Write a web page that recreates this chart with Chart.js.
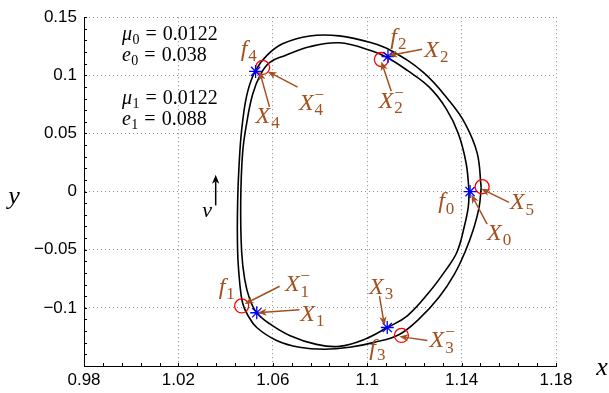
<!DOCTYPE html>
<html lang="en">
<head>
  <meta charset="UTF-8">
  <title>Periodic orbits, e0 / e1</title>
  <script src="https://cdn.jsdelivr.net/npm/chart.js"></script>
  <style>
    html, body { margin: 0; padding: 0; background: #fff; }
    #wrap { width: 609px; height: 393px; }
  </style>
</head>
<body>
  <div id="wrap"><canvas id="orbitChart" width="609" height="393"></canvas></div>

  <script>
    // Orbit A (outer along the top and right side)
    const orbitAX = [1.1483, 1.1466, 1.1415, 1.1348, 1.1238, 1.1102, 1.1018, 1.0882, 1.0756, 1.0641, 1.0574, 1.0527,
                     1.0493, 1.0472, 1.0460, 1.0451, 1.0451, 1.0460, 1.0472, 1.0493, 1.0532, 1.0616, 1.0713, 1.0819,
                     1.0925, 1.1030, 1.1136, 1.1221, 1.1305, 1.1369, 1.1415, 1.1449, 1.1474, 1.1483];
    const orbitAY = [0.0034, 0.0331, 0.0585, 0.0780, 0.1025, 0.1212, 0.1280, 0.1339, 0.1339, 0.1271, 0.1169, 0.1042,
                     0.0856, 0.0602, 0.0331, -0.0093, -0.0517, -0.0788, -0.0958, -0.1059, -0.1169, -0.1280, -0.1339, -0.1356,
                     -0.1339, -0.1297, -0.1229, -0.1093, -0.0907, -0.0712, -0.0517, -0.0331, -0.0136, 0.0034];

    // Orbit B (inner along the top and right side)
    const orbitBX = [1.1432, 1.1419, 1.1386, 1.1335, 1.1263, 1.1170, 1.1085, 1.1018, 1.0882, 1.0756, 1.0650, 1.0586,
                     1.0548, 1.0515, 1.0489, 1.0472, 1.0464, 1.0468, 1.0481, 1.0502, 1.0532, 1.0586, 1.0671, 1.0785,
                     1.0882, 1.0988, 1.1085, 1.1170, 1.1263, 1.1335, 1.1381, 1.1411, 1.1428, 1.1432];
    const orbitBY = [0.0000, 0.0246, 0.0500, 0.0712, 0.0898, 0.1042, 0.1153, 0.1212, 0.1280, 0.1246, 0.1169, 0.1110,
                     0.1008, 0.0839, 0.0585, 0.0331, -0.0093, -0.0517, -0.0754, -0.0924, -0.1042, -0.1136, -0.1237, -0.1314,
                     -0.1331, -0.1271, -0.1169, -0.1068, -0.0864, -0.0669, -0.0517, -0.0305, -0.0136, 0.0000];

    // blue asterisks: X0 (f0), X1, X2 (f2), X3 (f3), X4 (f4)
    const starX = [1.1436, 1.0532, 1.1088, 1.1085, 1.0527];
    const starY = [0.0000, -0.1042, 0.1161, -0.1169, 0.1034];

    // red circles: X1-, X2-, X3-, X4-, X5
    const ringX = [1.0468, 1.1060, 1.1145, 1.0557, 1.1487];
    const ringY = [-0.0983, 0.1136, -0.1237, 0.1068, 0.0042];

    // axis ticks
    const xTicks = [0.98, 1.02, 1.06, 1.1, 1.14, 1.18];
    const xTickLabels = ['0.98', '1.02', '1.06', '1.1', '1.14', '1.18'];
    const yTicks = [-0.15, -0.1, -0.05, 0, 0.05, 0.1, 0.15];
    const yTickLabels = ['', '\u22120.1', '\u22120.05', '0', '0.05', '0.1', '0.15'];

    // brown annotation arrows, tail -> head
    const arrowTailX = [1.1233, 1.1102, 1.0705, 1.0586, 1.1601, 1.1508, 1.0629, 1.0713, 1.1052, 1.1255];
    const arrowTailY = [0.1225, 0.0864, 0.0898, 0.0729, -0.0093, -0.0280, -0.0814, -0.1017, -0.0898, -0.1280];
    const arrowHeadX = [1.1090, 1.1060, 1.0578, 1.0544, 1.1483, 1.1441, 1.0481, 1.0536, 1.1073, 1.1136];
    const arrowHeadY = [0.1169, 0.1119, 0.1034, 0.1034, 0.0025, -0.0025, -0.0966, -0.1042, -0.1153, -0.1246];

    // brown labels: base letter, subscript, superscript
    const labelBase = ['f', 'f', 'f', 'f', 'f', 'X', 'X', 'X', 'X', 'X', 'X', 'X', 'X', 'X', 'X'];
    const labelSub  = ['0', '1', '2', '3', '4', '0', '1', '1', '2', '2', '3', '3', '4', '4', '5'];
    const labelSup  = ['', '', '', '', '', '', '', '\u2212', '', '\u2212', '', '\u2212', '', '\u2212', ''];
    const labelX = [1.1335, 1.0405, 1.1132, 1.1043, 1.0498, 1.1559, 1.0768, 1.0705, 1.1293, 1.1102, 1.1059, 1.1318, 1.0578, 1.0764, 1.1656];
    const labelY = [-0.0076, -0.0814, 0.1339, -0.1339, 0.1237, -0.0347, -0.1045, -0.0790, 0.1229, 0.0788, -0.0814, -0.1271, 0.0661, 0.0771, -0.0085];

    // parameter block
    const paramSym = ['\u03bc', 'e', '\u03bc', 'e'];
    const paramSub = ['0', '0', '1', '1'];
    const paramVal = ['0.0122', '0.038', '0.0122', '0.088'];
    const paramX = 0.9961;
    const paramY = [0.1305, 0.1127, 0.0754, 0.0576];

    // velocity direction marker
    const vArrowX = 1.0358, vArrowY0 = -0.0119, vArrowY1 = 0.0144;

    const BROWN = '#a3501f';
    const SERIF = '"Liberation Serif", "DejaVu Serif", serif';

    const toPoints = (xs, ys) => xs.map((x, i) => ({ x: x, y: ys[i] }));

    function drawArrow(ctx, x1, y1, x2, y2, color) {
      const ang = Math.atan2(y2 - y1, x2 - x1);
      const len = 9, half = 3.6, notch = 6.5;
      const c = Math.cos(ang), s = Math.sin(ang);
      ctx.save();
      ctx.strokeStyle = color;
      ctx.fillStyle = color;
      ctx.lineWidth = 1.5;
      ctx.beginPath();
      ctx.moveTo(x1, y1);
      ctx.lineTo(x2 - notch * c, y2 - notch * s);
      ctx.stroke();
      ctx.beginPath();
      ctx.moveTo(x2, y2);
      ctx.lineTo(x2 - len * c + half * s, y2 - len * s - half * c);
      ctx.lineTo(x2 - notch * c, y2 - notch * s);
      ctx.lineTo(x2 - len * c - half * s, y2 - len * s + half * c);
      ctx.closePath();
      ctx.fill();
      ctx.restore();
    }

    // italic letter with stacked sub/superscript, centred on (cx, cy)
    function drawMathLabel(ctx, cx, cy, base, sub, sup, color, size) {
      const baseFont = 'italic ' + size + 'px ' + SERIF;
      const small = Math.round(size * 0.7);
      const smallFont = small + 'px ' + SERIF;
      ctx.font = baseFont;
      const wb = ctx.measureText(base).width;
      ctx.font = smallFont;
      const ws = Math.max(sub ? ctx.measureText(sub).width : 0, sup ? ctx.measureText(sup).width : 0);
      const x = cx - (wb + ws + 1) / 2;
      const baseline = cy + size * 0.33;
      ctx.fillStyle = color;
      ctx.textAlign = 'left';
      ctx.textBaseline = 'alphabetic';
      ctx.font = baseFont;
      ctx.fillText(base, x, baseline);
      ctx.font = smallFont;
      if (sub) ctx.fillText(sub, x + wb + 1, baseline + size * 0.22);
      if (sup) ctx.fillText(sup, x + wb + 1, baseline - size * 0.42);
    }

    const annotations = {
      id: 'annotations',
      beforeDatasetsDraw(chart) {
        // inward ticks, major and minor
        const { ctx, scales: { x, y } } = chart;
        ctx.save();
        ctx.strokeStyle = '#000';
        ctx.lineWidth = 1;
        ctx.beginPath();
        for (let k = 0; k <= 25; k++) {
          const px = Math.round(x.getPixelForValue(0.98 + k * 0.008)) + 0.5;
          ctx.moveTo(px, y.bottom);
          ctx.lineTo(px, y.bottom - 3);
        }
        for (let k = 0; k <= 30; k++) {
          const py = Math.round(y.getPixelForValue(-0.15 + k * 0.01)) + 0.5;
          ctx.moveTo(x.left, py);
          ctx.lineTo(x.left + 3, py);
        }
        ctx.stroke();
        ctx.restore();
      },
      afterDatasetsDraw(chart) {
        const { ctx, scales: { x, y } } = chart;

        for (let i = 0; i < arrowTailX.length; i++) {
          drawArrow(ctx,
            x.getPixelForValue(arrowTailX[i]), y.getPixelForValue(arrowTailY[i]),
            x.getPixelForValue(arrowHeadX[i]), y.getPixelForValue(arrowHeadY[i]), BROWN);
        }
        for (let i = 0; i < labelBase.length; i++) {
          drawMathLabel(ctx, x.getPixelForValue(labelX[i]), y.getPixelForValue(labelY[i]),
            labelBase[i], labelSub[i], labelSup[i], BROWN, 24);
        }

        // v arrow
        const vx = x.getPixelForValue(vArrowX);
        drawArrow(ctx, vx, y.getPixelForValue(vArrowY0), vx, y.getPixelForValue(vArrowY1), '#000');
        drawMathLabel(ctx, x.getPixelForValue(1.0324), y.getPixelForValue(-0.0153), 'v', '', '', '#000', 22);

        // parameter block
        ctx.save();
        ctx.fillStyle = '#000';
        ctx.textAlign = 'left';
        ctx.textBaseline = 'alphabetic';
        for (let i = 0; i < paramSym.length; i++) {
          let px = x.getPixelForValue(paramX);
          const py = y.getPixelForValue(paramY[i]);
          ctx.font = 'italic 20px ' + SERIF;
          ctx.fillText(paramSym[i], px, py);
          px += ctx.measureText(paramSym[i]).width + 0.5;
          ctx.font = '14px ' + SERIF;
          ctx.fillText(paramSub[i], px, py + 4);
          px += ctx.measureText(paramSub[i]).width + 6;
          ctx.font = '20px ' + SERIF;
          ctx.fillText('=', px, py);
          px += ctx.measureText('=').width + 6;
          ctx.fillText(paramVal[i], px, py);
        }
        ctx.restore();
      },
      afterDraw(chart) {
        const { ctx, chartArea } = chart;
        ctx.save();
        ctx.fillStyle = '#000';
        ctx.textAlign = 'center';
        ctx.textBaseline = 'alphabetic';
        ctx.font = 'italic 26px ' + SERIF;
        ctx.fillText('x', chartArea.right + 46, chartArea.bottom + 9);
        ctx.fillText('y', 14, chartArea.top + 187);
        ctx.restore();
      }
    };

    const gridColor = c => (c.index === 0 ? 'rgba(0,0,0,0)' : '#8c8c8c');

    const ctx = document.getElementById('orbitChart').getContext('2d');
    const orbitChart = new Chart(ctx, {
      type: 'scatter',
      data: {
        datasets: [
          {
            label: 'orbit A',
            data: toPoints(orbitAX, orbitAY),
            showLine: true,
            borderColor: '#000',
            borderWidth: 1.6,
            pointRadius: 0,
            tension: 0.4,
            order: 3
          },
          {
            label: 'orbit B',
            data: toPoints(orbitBX, orbitBY),
            showLine: true,
            borderColor: '#000',
            borderWidth: 1.6,
            pointRadius: 0,
            tension: 0.4,
            order: 3
          },
          {
            label: 'X minus',
            data: toPoints(ringX, ringY),
            pointStyle: 'circle',
            pointRadius: 7,
            borderColor: '#ff0000',
            backgroundColor: 'rgba(0,0,0,0)',
            borderWidth: 1.3,
            order: 2
          },
          {
            label: 'X',
            data: toPoints(starX, starY),
            pointStyle: 'star',
            pointRadius: 6.5,
            borderColor: '#0000ff',
            backgroundColor: '#0000ff',
            borderWidth: 1.3,
            order: 1
          }
        ]
      },
      options: {
        responsive: false,
        animation: false,
        events: [],
        layout: { padding: { top: 12, right: 53, left: 0, bottom: 0 } },
        plugins: {
          legend: { display: false },
          tooltip: { enabled: false }
        },
        scales: {
          x: {
            type: 'linear',
            min: 0.98,
            max: 1.18,
            afterBuildTicks: scale => { scale.ticks = xTicks.map(v => ({ value: v })); },
            afterFit: scale => { scale.height = 27; },
            grid: { color: gridColor, lineWidth: 1, drawTicks: false },
            border: { display: true, color: '#000', width: 1, dash: [1, 3] },
            ticks: {
              color: '#000',
              font: { family: '"Liberation Sans", Arial, sans-serif', size: 17 },
              padding: 4,
              maxRotation: 0,
              autoSkip: false,
              callback: (v, i) => xTickLabels[i]
            }
          },
          y: {
            type: 'linear',
            min: -0.15,
            max: 0.15,
            afterBuildTicks: scale => { scale.ticks = yTicks.map(v => ({ value: v })); },
            afterFit: scale => { scale.width = 84; },
            grid: { color: gridColor, lineWidth: 1, drawTicks: false },
            border: { display: true, color: '#000', width: 1, dash: [1, 3] },
            ticks: {
              color: '#000',
              font: { family: '"Liberation Sans", Arial, sans-serif', size: 17 },
              padding: 7,
              autoSkip: false,
              callback: (v, i) => yTickLabels[i]
            }
          }
        }
      },
      plugins: [annotations]
    });
  </script>
</body>
</html>
